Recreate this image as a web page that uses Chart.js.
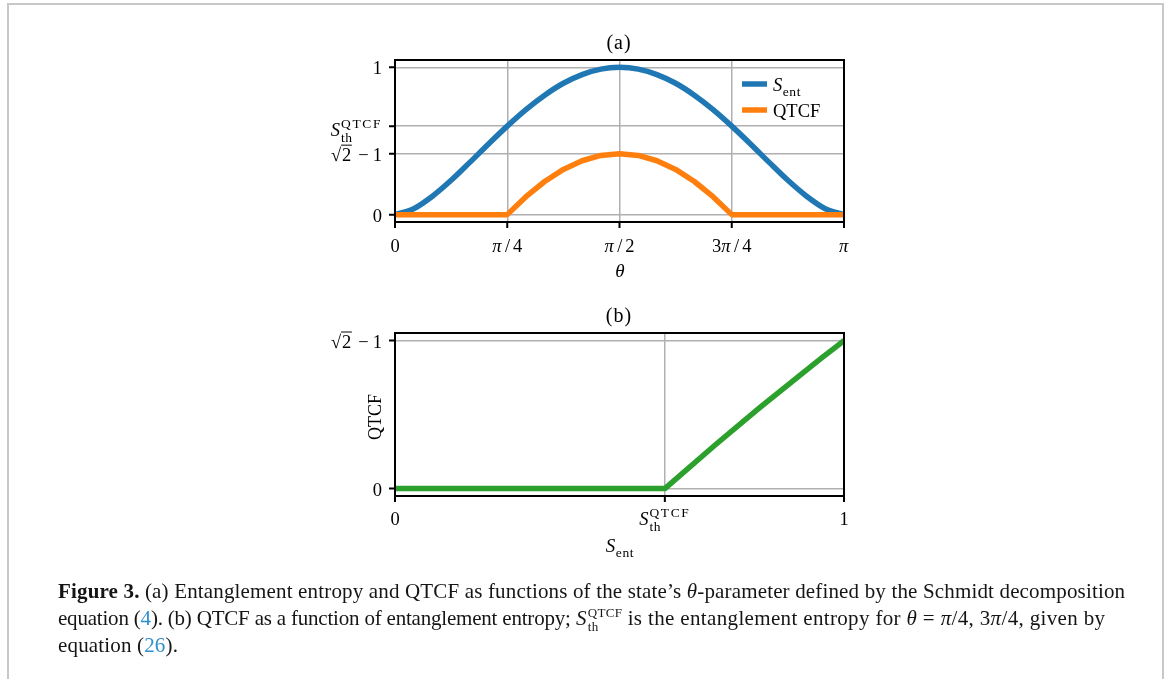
<!DOCTYPE html>
<html>
<head>
<meta charset="utf-8">
<script src="https://cdn.jsdelivr.net/npm/chart.js@4/dist/chart.umd.min.js"></script>
<style>
  html, body { margin:0; padding:0; width:1170px; height:679px; overflow:hidden; background:#fff; }
  #frame { position:absolute; left:7px; top:3px; width:1157px; height:720px; box-sizing:border-box; border:2px solid #c8c8c8; }
  canvas { position:absolute; left:0; top:0; }
  #caption { position:absolute; left:58px; top:578px; font-family:"Liberation Serif", serif; font-size:21px; letter-spacing:0.16px; line-height:27px; color:#151515; white-space:nowrap; }
  #caption b { font-weight:bold; }
  #caption a { color:#2f8fce; text-decoration:none; }
  #caption .m { font-style:italic; }
  #caption .tight { letter-spacing:-0.2px; }
  #caption .wide { letter-spacing:0.35px; }
  .ss { display:inline-block; position:relative; font-size:0.62em; vertical-align:0.6em; line-height:1; margin-left:1px; letter-spacing:0.3px; }
  .ss .sb { position:absolute; left:0; top:1.05em; }
</style>
</head>
<body>
<div id="frame"></div>
<canvas id="ca" width="1170" height="679"></canvas>
<canvas id="cb" width="1170" height="679"></canvas>
<div id="caption"><b>Figure 3.</b> (a) Entanglement entropy and QTCF as functions of the state’s <span class="m">θ</span>-parameter defined by the Schmidt decomposition<br><span class="tight">equation (<a>4</a>). (b) QTCF as a function of entanglement entropy;</span> <span class="m">S</span><span class="ss"><span class="sp">QTCF</span><span class="sb">th</span></span> <span class="wide">is the entanglement entropy for <span class="m">θ</span> = <span class="m">π</span>/4, 3<span class="m">π</span>/4, given by</span><br>equation (<a>26</a>).</div>
<script>
// ---------- data ----------
// panel (a): theta in radians
const thetaValues = [0, 0.1309, 0.2618, 0.3927, 0.5236, 0.6545, 0.7854, 0.9163, 1.0472, 1.1781, 1.3090, 1.4399, 1.5708,
                     1.7017, 1.8326, 1.9635, 2.0944, 2.2253, 2.3562, 2.4871, 2.6180, 2.7489, 2.8798, 3.0107, 3.1416];
const sentValues  = [0, 0.040, 0.125, 0.233, 0.355, 0.480, 0.601, 0.713, 0.811, 0.892, 0.951, 0.988, 1.000,
                     0.988, 0.951, 0.892, 0.811, 0.713, 0.601, 0.480, 0.355, 0.233, 0.125, 0.040, 0];
const qtcfValues  = [0, 0, 0, 0, 0, 0, 0, 0.122, 0.225, 0.307, 0.366, 0.402, 0.414,
                     0.402, 0.366, 0.307, 0.225, 0.122, 0, 0, 0, 0, 0, 0, 0];
// panel (b)
const sentB = [0, 0.601, 0.713, 0.811, 0.892, 0.951, 0.988, 1.000];
const qtcfB = [0, 0, 0.122, 0.225, 0.307, 0.366, 0.402, 0.414];

// ticks
const thetaTicks = [0, 0.7854, 1.5708, 2.3562, 3.1416];
const thetaTickLabels = ['0', 'π/4', 'π/2', '3π/4', 'π'];
const yTicksA = [0, 0.414, 0.601, 1];
const yTickLabelsA = ['0', '√2 − 1', 'S_th^QTCF', '1'];
const xTicksB = [0, 0.601, 1];
const xTickLabelsB = ['0', 'S_th^QTCF', '1'];
const yTicksB = [0, 0.414];
const yTickLabelsB = ['0', '√2 − 1'];
const seriesNames = ['S_ent', 'QTCF'];

// ---------- styles ----------
const FF = '"Liberation Serif", serif';
const R = s => s + 'px ' + FF;
const I = s => 'italic ' + s + 'px ' + FF;
const TICK = 18.5;

function segsFor(label, size) {
  size = size || TICK;
  if (label === 'S_th^QTCF') return [{t:'S', f:I(size), pr:1}, {t:'QTCF', f:R(13.5), dy:-8, g:1, ls:1.6}, {t:'th', f:R(13.5), dy:6, g:1, ls:0.5}];
  if (label === 'S_ent') return [{t:'S', f:I(size), pr:0.5}, {t:'ent', f:R(13.5), dy:5, ls:0.6}];
  if (label === '√2 − 1') return [{t:'√', f:R(size), pl:3, pr:1}, {t:'2', f:R(size), over:true}, {t:'−', f:R(size), pl:7, pr:4}, {t:'1', f:R(size)}];
  const out = [];
  for (const ch of label) {
    if (ch === '/') out.push({t:ch, f:R(size), pl:3, pr:3});
    else out.push({t:ch, f: ch === 'π' ? I(size) : R(size), pr: ch === 'π' ? 0.5 : 0});
  }
  return out;
}
function drawMath(ctx, segs, x, y, align) {
  let cx = 0; const out = []; let i = 0;
  const meas = s => { ctx.font = s.f; ctx.letterSpacing = (s.ls || 0) + 'px'; const w = ctx.measureText(s.t).width; ctx.letterSpacing = '0px'; return w; };
  while (i < segs.length) {
    const s = segs[i];
    if (s.g) {
      let w = 0;
      while (i < segs.length && segs[i].g === s.g) { const g = segs[i]; w = Math.max(w, meas(g)); out.push(Object.assign({}, g, {x:cx})); i++; }
      cx += w;
    } else { cx += (s.pl || 0); const w = meas(s); out.push(Object.assign({}, s, {x:cx, w:w})); cx += w + (s.pr || 0); i++; }
  }
  const x0 = align === 'right' ? x - cx : align === 'center' ? x - cx / 2 : x;
  ctx.fillStyle = '#000'; ctx.textBaseline = 'alphabetic'; ctx.textAlign = 'left';
  out.forEach(s => {
    ctx.font = s.f; ctx.letterSpacing = (s.ls || 0) + 'px';
    ctx.fillText(s.t, x0 + s.x, y + (s.dy || 0));
    ctx.letterSpacing = '0px';
    if (s.over) { ctx.save(); ctx.strokeStyle = '#000'; ctx.lineWidth = 1; ctx.beginPath(); ctx.moveTo(x0 + s.x - 1, y - 15.5); ctx.lineTo(x0 + s.x + s.w + 0.5, y - 15.5); ctx.stroke(); ctx.restore(); }
  });
}

function framePlugin(cfg) {
  return {
    id: 'frame_' + cfg.name,
    afterDraw(chart) {
      const ctx = chart.ctx, a = chart.chartArea, xs = chart.scales.x, ys = chart.scales.y;
      ctx.save();
      ctx.strokeStyle = '#000'; ctx.lineWidth = 2;
      ctx.strokeRect(a.left, a.top, a.right - a.left, a.bottom - a.top);
      ctx.beginPath();
      cfg.xt.forEach(v => { const p = xs.getPixelForValue(v); ctx.moveTo(p, a.bottom); ctx.lineTo(p, a.bottom + 6); });
      cfg.yt.forEach(v => { const p = ys.getPixelForValue(v); ctx.moveTo(a.left - 6, p); ctx.lineTo(a.left, p); });
      ctx.stroke();
      cfg.xt.forEach((v, i) => drawMath(ctx, segsFor(cfg.xl[i]), xs.getPixelForValue(v), a.bottom + cfg.xLabelDy, 'center'));
      cfg.yt.forEach((v, i) => drawMath(ctx, segsFor(cfg.yl[i]), a.left - 13, ys.getPixelForValue(v) + (cfg.yl[i] === 'S_th^QTCF' ? 10 : 7), 'right'));
      ctx.font = R(20); ctx.fillStyle = '#000'; ctx.textAlign = 'center'; ctx.textBaseline = 'alphabetic';
      ctx.letterSpacing = '1px';
      ctx.fillText(cfg.title, (a.left + a.right) / 2 - 0.5, a.top - 11);
      ctx.letterSpacing = '0px';
      cfg.extra && cfg.extra(ctx, a, xs, ys);
      ctx.restore();
    }
  };
}

function baseOptions(pad, xmin, xmax, ymin, ymax, xt, yt, xh, yw) {
  return {
    responsive: false, animation: false, devicePixelRatio: 1,
    layout: { padding: pad },
    plugins: { legend: { display: false }, tooltip: { enabled: false } },
    elements: { point: { radius: 0 }, line: { tension: 0, borderCapStyle: 'butt', borderJoinStyle: 'round' } },
    scales: {
      x: { type: 'linear', min: xmin, max: xmax, ticks: { display: false },
           afterBuildTicks: s => { s.ticks = xt.map(v => ({ value: v })); },
           afterFit: s => { s.height = xh; },
           grid: { color: '#b0b0b0', lineWidth: 1.5, drawTicks: false }, border: { display: false } },
      y: { type: 'linear', min: ymin, max: ymax, ticks: { display: false },
           afterBuildTicks: s => { s.ticks = yt.map(v => ({ value: v })); },
           afterFit: s => { s.width = yw; },
           grid: { color: '#b0b0b0', lineWidth: 1.5, drawTicks: false }, border: { display: false } }
    }
  };
}

// ---------- chart (a) ----------
new Chart(document.getElementById('ca'), {
  type: 'line',
  data: { datasets: [
    { label: seriesNames[0], data: thetaValues.map((t, i) => ({ x: t, y: sentValues[i] })), borderColor: '#1f77b4', borderWidth: 5.5, fill: false, order: 2, cubicInterpolationMode: 'monotone' },
    { label: seriesNames[1], data: thetaValues.map((t, i) => ({ x: t, y: qtcfValues[i] })), borderColor: '#ff7f0e', borderWidth: 5.5, fill: false, order: 1 }
  ] },
  options: baseOptions({ left: 0, right: 326, top: 60, bottom: 0 }, 0, 3.1416, -0.05, 1.05, thetaTicks, yTicksA, 679 - 222, 395),
  plugins: [framePlugin({
    name: 'a', title: '(a)', xt: thetaTicks, xl: thetaTickLabels, yt: yTicksA, yl: yTickLabelsA, xLabelDy: 30,
    extra(ctx, a) {
      ctx.font = I(19); ctx.textAlign = 'center'; ctx.fillText('θ', 620, 277);
      const cols = ['#1f77b4', '#ff7f0e'];
      [84, 110].forEach((yy, i) => {
        ctx.strokeStyle = cols[i]; ctx.lineWidth = 5.5; ctx.beginPath(); ctx.moveTo(742, yy); ctx.lineTo(767, yy); ctx.stroke();
        drawMath(ctx, segsFor(seriesNames[i]), 773, yy + 7, 'left');
      });
    }
  })]
});

// ---------- chart (b) ----------
new Chart(document.getElementById('cb'), {
  type: 'line',
  data: { datasets: [
    { label: seriesNames[1], data: sentB.map((s, i) => ({ x: s, y: qtcfB[i] })), borderColor: '#2ca02c', borderWidth: 5.5, fill: false }
  ] },
  options: baseOptions({ left: 0, right: 326, top: 333, bottom: 0 }, 0, 1, -0.0207, 0.435, xTicksB, yTicksB, 679 - 496, 395),
  plugins: [framePlugin({
    name: 'b', title: '(b)', xt: xTicksB, xl: xTickLabelsB, yt: yTicksB, yl: yTickLabelsB, xLabelDy: 29,
    extra(ctx, a) {
      drawMath(ctx, segsFor('S_ent', 19), 620, 552, 'center');
      ctx.save(); ctx.translate(381, 417); ctx.rotate(-Math.PI / 2);
      ctx.font = R(18); ctx.textAlign = 'center'; ctx.fillStyle = '#000'; ctx.fillText('QTCF', 0, 0); ctx.restore();
    }
  })]
});
</script>
</body>
</html>
